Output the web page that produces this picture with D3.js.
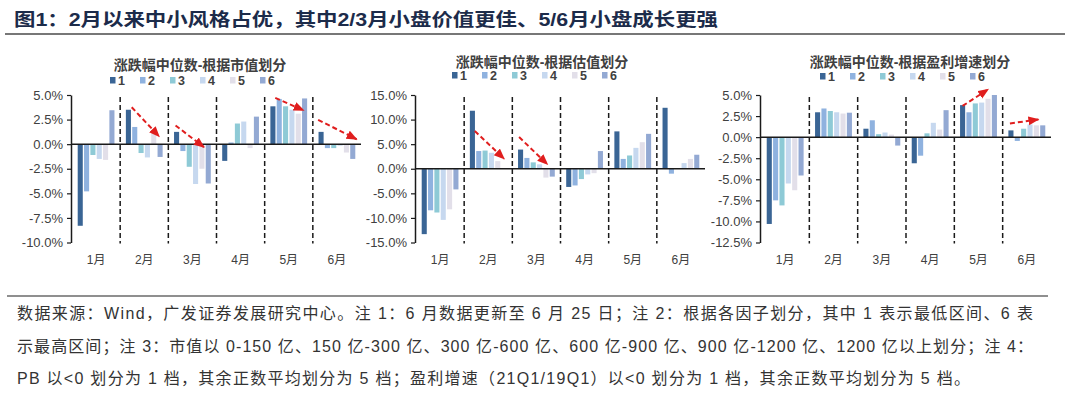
<!DOCTYPE html>
<html>
<head>
<meta charset="utf-8">
<script src="https://cdn.jsdelivr.net/npm/d3@7"></script>
<style>
  body { margin: 0; background: #fff; }
  svg { display: block; }
</style>
</head>
<body>
<div id="chart"></div>
<script>
// categories
const months = ['1月', '2月', '3月', '4月', '5月', '6月'];
const groups = ['1', '2', '3', '4', '5', '6'];
const groupColors = ['#3a6595', '#8fb2df', '#8ecad6', '#c6d8ef', '#e2dfe9', '#93a9d3'];

// median return (%) per month, groups 1..6
const mktCapValues = [
  [-8.3, -4.8, -1.1, -1.5, -1.6, 3.45],
  [3.5, 1.75, -0.9, -1.35, 1.1, -1.3],
  [1.25, -0.7, -2.3, -4.05, -2.5, -4.0],
  [-1.7, 0.17, 2.1, 2.3, -0.4, 2.8],
  [3.85, 4.6, 3.85, 3.5, 3.1, 4.65],
  [1.25, -0.4, -0.4, -0.15, -0.85, -1.5]
];
const valuationValues = [
  [-13.3, -8.45, -8.9, -10.4, -8.25, -4.2],
  [11.8, 3.6, 3.7, 3.25, 1.55, 0.15],
  [3.9, 2.2, 1.3, 0.9, -1.8, -1.6],
  [-3.7, -3.4, -2.1, -1.15, -0.9, 3.6],
  [7.6, 2.0, 2.7, 4.25, 5.4, 7.1],
  [12.4, -1.0, 0, 1.15, 2.0, 2.85]
];
const growthValues = [
  [-10.3, -7.5, -8.1, -5.5, -6.3, -4.55],
  [2.95, 3.4, 3.1, 2.95, 2.8, 2.9],
  [1.0, 2.0, 0.35, 0.55, 0.3, -1.0],
  [-3.1, -2.2, 0.45, 1.7, 0.9, 3.2],
  [3.8, 2.95, 4.0, 4.1, 4.55, 5.0],
  [0.8, -0.45, 1.0, 1.5, 1.4, 1.4]
];

// y ticks
const mktCapTicks = [5, 2.5, 0, -2.5, -5, -7.5, -10];
const valuationTicks = [15, 10, 5, 0, -5, -10, -15];
const growthTicks = [5, 2.5, 0, -2.5, -5, -7.5, -10, -12.5];

// trend arrows: [month position from, value from, month position to, value to]
const mktCapArrows = [[1.24, 3.75, 1.81, 0.78], [2.15, 1.9, 2.74, -0.3], [4.22, 4.7, 4.81, 3.44], [5.11, 2.48, 5.91, 0.5]];
const valuationArrows = [[1.22, 7.66, 1.83, 2.04], [2.14, 6.44, 2.73, 0.9]];
const growthArrows = [[4.17, 3.7, 4.7, 5.67], [5.15, 1.62, 5.74, 2.1]];

const titleText = '图1：2月以来中小风格占优，其中2/3月小盘价值更佳、5/6月小盘成长更强';
const noteLines = [
  '数据来源：Wind，广发证券发展研究中心。注 1：6 月数据更新至 6 月 25 日；注 2：根据各因子划分，其中 1 表示最低区间、6 表',
  '示最高区间；注 3：市值以 0-150 亿、150 亿-300 亿、300 亿-600 亿、600 亿-900 亿、900 亿-1200 亿、1200 亿以上划分；注 4：',
  'PB 以<0 划分为 1 档，其余正数平均划分为 5 档；盈利增速（21Q1/19Q1）以<0 划分为 1 档，其余正数平均划分为 5 档。'
];
const noteWidths = [1016, 1016, 953];

const W = 1080, H = 396;
const fontFamily = '"Liberation Sans", Arial, "Noto Sans CJK SC", sans-serif';

const svg = d3.select('#chart').append('svg')
  .attr('width', W)
  .attr('height', H)
  .style('font-family', fontFamily);

// defs: arrow head
const defs = svg.append('defs');
defs.append('marker')
  .attr('id', 'redHead')
  .attr('markerUnits', 'userSpaceOnUse')
  .attr('markerWidth', 12)
  .attr('markerHeight', 10)
  .attr('refX', 10)
  .attr('refY', 4.5)
  .attr('orient', 'auto')
  .append('path')
  .attr('d', 'M0,0 L11,4.5 L0,9 Z')
  .attr('fill', '#e01e1e');

// header
svg.append('text')
  .attr('x', 14)
  .attr('y', 26)
  .attr('font-size', 18)
  .attr('font-weight', 'bold')
  .attr('fill', '#1c2b4a')
  .attr('textLength', 704)
  .attr('lengthAdjust', 'spacingAndGlyphs')
  .text(titleText);

svg.append('line')
  .attr('x1', 5).attr('x2', 1065)
  .attr('y1', 34).attr('y2', 34)
  .attr('stroke', '#4a4a4a')
  .attr('stroke-width', 1.5);

// charts
const charts = [
  { title: '涨跌幅中位数-根据市值划分', values: mktCapValues, ticks: mktCapTicks, domain: [-10, 5],
    arrows: mktCapArrows, x0: 72, x1: 361, titleX: 200, titleY: 70, legendY: 80.5 },
  { title: '涨跌幅中位数-根据估值划分', values: valuationValues, ticks: valuationTicks, domain: [-15, 15],
    arrows: valuationArrows, x0: 416, x1: 705, titleX: 542, titleY: 67, legendY: 75.5 },
  { title: '涨跌幅中位数-根据盈利增速划分', values: growthValues, ticks: growthTicks, domain: [-12.5, 5],
    arrows: growthArrows, x0: 761, x1: 1051, titleX: 910, titleY: 67, legendY: 76.5 }
];

const plotTop = 95, plotBottom = 242.5;

charts.forEach(c => {
  let g = svg.append('g');

  let x = d3.scaleBand().domain(months).range([c.x0, c.x1]).padding(0);
  let xs = d3.scaleBand().domain(groups).range([0, x.step()])
    .paddingInner(0.2).paddingOuter(0.9);
  let y = d3.scaleLinear().domain(c.domain).range([plotBottom, plotTop]);
  let pos = u => c.x0 + u * x.step();

  // title
  g.append('text')
    .attr('x', c.titleX)
    .attr('y', c.titleY)
    .attr('text-anchor', 'middle')
    .attr('font-size', 14)
    .attr('font-weight', 'bold')
    .attr('fill', '#404040')
    .text(c.title);

  // legend
  let lg = g.append('g')
    .attr('transform', `translate(${c.titleX - 90}, ${c.legendY})`);
  let item = lg.selectAll('g')
    .data(groups)
    .enter().append('g')
    .attr('transform', (d, i) => `translate(${i * 30}, 0)`);
  item.append('rect')
    .attr('x', 0).attr('y', -3.5)
    .attr('width', 5.5).attr('height', 6.5)
    .attr('fill', (d, i) => groupColors[i]);
  item.append('text')
    .attr('x', 8)
    .attr('y', 4.5)
    .attr('font-size', 12.5)
    .attr('font-weight', 'bold')
    .attr('fill', '#404040')
    .text(d => d);

  // bars
  let mg = g.selectAll('g.month')
    .data(c.values)
    .enter().append('g')
    .attr('class', 'month')
    .attr('transform', (d, i) => `translate(${x(months[i])}, 0)`);
  mg.selectAll('rect')
    .data(d => d)
    .enter().append('rect')
    .attr('x', (d, i) => xs(groups[i]))
    .attr('width', xs.bandwidth())
    .attr('y', d => y(Math.max(0, d)))
    .attr('height', d => Math.abs(y(d) - y(0)))
    .attr('fill', (d, i) => groupColors[i]);

  // y axis
  let yAxis = d3.axisLeft(y)
    .tickValues(c.ticks)
    .tickFormat(d => d.toFixed(1) + '%')
    .tickSizeInner(4)
    .tickSizeOuter(0);
  let ya = g.append('g')
    .attr('transform', `translate(${c.x0 - 1}, 0)`)
    .call(yAxis);
  ya.select('.domain').attr('stroke', '#1a1a1a').attr('stroke-width', 1.5);
  ya.selectAll('.tick line').attr('stroke', '#1a1a1a').attr('stroke-width', 1.2);
  ya.selectAll('.tick text')
    .attr('font-size', 13)
    .attr('font-family', fontFamily)
    .attr('fill', '#404040')
    .attr('x', -8);

  // zero line
  g.append('line')
    .attr('x1', c.x0 - 1).attr('x2', c.x1)
    .attr('y1', y(0)).attr('y2', y(0))
    .attr('stroke', '#1a1a1a')
    .attr('stroke-width', 1.5);

  // month separators
  g.selectAll('line.sep')
    .data(months.slice(1))
    .enter().append('line')
    .attr('class', 'sep')
    .attr('x1', d => x(d)).attr('x2', d => x(d))
    .attr('y1', plotTop + 2).attr('y2', plotBottom + 1)
    .attr('stroke', '#1a1a1a')
    .attr('stroke-width', 1.5)
    .attr('stroke-dasharray', '5,3');

  // month labels
  g.selectAll('text.month')
    .data(months)
    .enter().append('text')
    .attr('class', 'month')
    .attr('x', d => x(d) + x.bandwidth() / 2)
    .attr('y', 264)
    .attr('text-anchor', 'middle')
    .attr('font-size', 12)
    .attr('fill', '#404040')
    .text(d => d);

  // trend arrows
  g.selectAll('line.arrow')
    .data(c.arrows)
    .enter().append('line')
    .attr('class', 'arrow')
    .attr('x1', d => pos(d[0])).attr('y1', d => y(d[1]))
    .attr('x2', d => pos(d[2])).attr('y2', d => y(d[3]))
    .attr('stroke', '#e01e1e')
    .attr('stroke-width', 2)
    .attr('stroke-dasharray', '5,3')
    .attr('marker-end', 'url(#redHead)');
});

// footer
svg.append('line')
  .attr('x1', 7).attr('x2', 1048)
  .attr('y1', 296).attr('y2', 296)
  .attr('stroke', '#6a6a6a')
  .attr('stroke-width', 1.5);

svg.selectAll('text.note')
  .data(noteLines)
  .enter().append('text')
  .attr('class', 'note')
  .attr('x', 17)
  .attr('y', (d, i) => 319 + i * 32.5)
  .attr('font-size', 16)
  .attr('fill', '#333333')
  .attr('textLength', (d, i) => noteWidths[i])
  .attr('lengthAdjust', 'spacing')
  .text(d => d);
</script>
</body>
</html>
